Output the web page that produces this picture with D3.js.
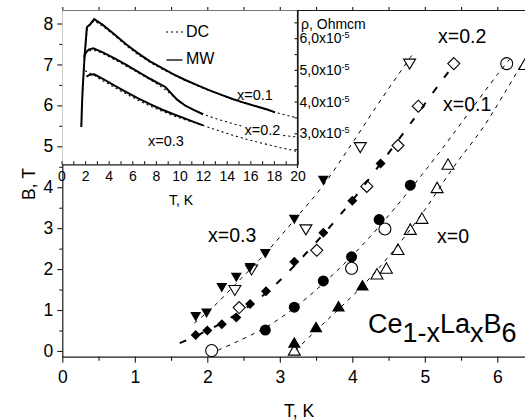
<!DOCTYPE html>
<html><head><meta charset="utf-8">
<script src="https://cdn.jsdelivr.net/npm/d3@7"></script>
<style>
body{margin:0;background:#fff}
text{font-family:"Liberation Sans",Arial,Helvetica,sans-serif;fill:#000}
</style></head>
<body><svg id="c" width="525" height="420"></svg>
<script>
// ---------- main chart data (T in K, B in T) ----------
const xTicks = [0,1,2,3,4,5,6];
const yTicks = [0,1,2,3,4,5,6,7,8];
// x = 0.3
const fTriDownT = [1.84,1.99,2.20,2.40,2.59,2.80,3.20,3.60];
const fTriDownB = [0.84,0.93,1.55,1.80,2.04,2.38,3.22,4.17];
const oTriDownT = [2.38,2.61,3.36,4.11,4.79];
const oTriDownB = [1.49,1.99,2.97,4.98,7.02];
const fit03T = [1.82,2.06,2.40,2.80,3.20,3.60,4.00,4.40,4.82];
const fit03B = [0.68,1.04,1.65,2.38,3.20,4.05,5.08,6.15,7.22];
// x = 0.2
const fDiamT = [1.84,2.00,2.20,2.40,2.59,2.81,3.20,3.60,4.00,4.39];
const fDiamB = [0.39,0.50,0.65,0.82,1.15,1.46,2.18,2.89,3.67,4.58];
const oDiamT = [2.44,3.51,4.20,4.63,4.91,5.40];
const oDiamB = [1.06,2.46,4.02,5.02,5.98,7.02];
const fit02T = [1.62,1.84,2.00,2.20,2.40,2.60,2.80,3.00,3.20,3.60,4.00,4.40,4.80,5.20,5.34];
const fit02B = [0.19,0.36,0.50,0.68,0.90,1.13,1.40,1.72,2.08,2.85,3.68,4.60,5.55,6.52,6.85];
// x = 0.1
const fCircT = [2.80,3.20,3.60,3.99,4.37,4.80];
const fCircB = [0.51,1.07,1.71,2.30,3.21,4.05];
const oCircT = [2.06,3.99,4.45,6.13];
const oCircB = [0.01,2.02,2.98,7.02];
const fit01T = [2.15,2.40,2.80,3.20,3.60,4.00,4.40,4.80,5.20,5.60,6.00,6.18];
const fit01B = [0.02,0.22,0.57,1.05,1.65,2.33,3.10,3.95,4.85,5.80,6.75,7.15];
// x = 0
const fTriUpT = [3.20,3.50,3.81,4.14];
const fTriUpB = [0.21,0.59,1.10,1.61];
const oTriUpT = [3.20,4.34,4.47,4.63,4.80,4.96,5.17,5.32,6.38];
const oTriUpB = [0.02,1.88,2.02,2.48,2.97,3.24,3.99,4.56,7.00];
const fit0T = [3.22,3.50,3.80,4.20,4.60,5.00,5.40,5.80,6.10,6.36];
const fit0B = [0.02,0.50,1.00,1.70,2.52,3.45,4.50,5.45,6.30,7.08];

// ---------- inset data (T in K, rho in 1e-5 Ohm cm) ----------
const insetXTicks = [0,2,4,6,8,10,12,14,16,18,20];
const insetRhoTicks = [3,4,5,6];
const insetRhoLabels = ["3,0x10","4,0x10","5,0x10","6,0x10"];
const mw01T = [1.68,1.72,1.78,1.95,2.15,2.45,2.77,3.5,4.5,5.5,6.5,7.5,8.5,9.5,10.5,11.5,12.5,13.5,14.5,15.5,16.5,17.5,18.1];
const mw01R = [3.20,3.70,4.30,5.40,6.35,6.45,6.60,6.42,6.12,5.80,5.52,5.27,5.06,4.86,4.68,4.52,4.36,4.22,4.08,3.96,3.85,3.74,3.66];
const dc01T = [1.68,1.75,2.0,2.2,2.5,2.77,3.5,4.5,5.5,6.5,7.5,8.5,9.5,10.5,11.5,12.5,13.5,14.5,15.5,16.5,17.5,18.5,19.5,20];
const dc01R = [3.25,4.0,5.6,6.33,6.45,6.55,6.38,6.08,5.76,5.48,5.24,5.03,4.84,4.66,4.50,4.35,4.21,4.07,3.95,3.84,3.73,3.62,3.53,3.48];
const mw02T = [1.92,2.0,2.3,2.7,3.5,4.5,5.5,6.5,7.5,8.3,8.8,9.3,9.8,10.5,11.2,12.0];
const mw02R = [5.40,5.52,5.64,5.68,5.55,5.36,5.16,4.94,4.72,4.56,4.46,4.26,4.06,3.87,3.74,3.60];
const dc02T = [1.92,2.1,2.5,3.0,4.0,5.0,6.0,7.0,8.0,9.0,10.0,11.0,12.0,13.0,14.0,15.0,16.0,17.0,18.0,19.0,20.0];
const dc02R = [5.35,5.55,5.62,5.60,5.42,5.22,5.01,4.80,4.58,4.32,3.99,3.77,3.60,3.47,3.36,3.25,3.15,3.06,2.98,2.92,2.88];
const mw03T = [2.12,2.4,2.77,3.5,4.5,5.5,6.5,7.5,8.5,9.5,10.5,11.2,12.0];
const mw03R = [4.79,4.85,4.86,4.72,4.50,4.30,4.10,3.92,3.75,3.60,3.46,3.36,3.25];
const dc03T = [2.0,2.3,2.7,3.5,4.5,5.5,6.5,7.5,8.5,9.5,10.5,11.5,12.5,13.5,14.5,15.5,16.5,17.5,18.5,19.5,20.0];
const dc03R = [4.97,4.92,4.84,4.66,4.44,4.24,4.04,3.86,3.70,3.55,3.42,3.31,3.18,3.06,2.94,2.83,2.73,2.64,2.55,2.47,2.42];

const zip = (a,b) => a.map((v,i)=>[v,b[i]]);
const svg = d3.select("#c");
const INK = "#1a1a1a";

// ---------- main scales ----------
const x = d3.scaleLinear().domain([0,6.4]).range([62.3,526.3]);
const y = d3.scaleLinear().domain([-0.14,8.33]).range([356.7,10]);

function styleAxis(g, fs){
  g.select(".domain").attr("stroke",INK).attr("stroke-width",1.2);
  g.selectAll(".tick line").attr("stroke",INK).attr("stroke-width",1.1);
  g.selectAll("text").attr("font-size",fs).attr("fill","#000")
   .attr("font-family",'"Liberation Sans",Arial,sans-serif');
}
const halves = (a,b,s)=>d3.range(a,b+1e-9,s);

// x axis bottom
let gx = svg.append("g").attr("transform",`translate(0,${y.range()[0]})`)
  .call(d3.axisBottom(x).tickValues(xTicks).tickSize(6).tickSizeOuter(0).tickPadding(8).tickFormat(d3.format("d")));
styleAxis(gx,17.5);
let gxm = svg.append("g").attr("transform",`translate(0,${y.range()[0]})`)
  .call(d3.axisBottom(x).tickValues(halves(0.5,6.4,1)).tickSize(4).tickSizeOuter(0).tickFormat(""));
styleAxis(gxm,17); gxm.select(".domain").remove();
// top axis
let gt = svg.append("g").attr("transform",`translate(0,${y.range()[1]})`)
  .call(d3.axisTop(x).tickValues(halves(0,6.4,0.5)).tickSize(3).tickSizeOuter(0).tickFormat(""));
styleAxis(gt,17);
// y axis left
let gy = svg.append("g").attr("transform",`translate(${x.range()[0]},0)`)
  .call(d3.axisLeft(y).tickValues(yTicks).tickSize(5).tickSizeOuter(0).tickPadding(4).tickFormat(d3.format("d")));
styleAxis(gy,17.5);
let gym = svg.append("g").attr("transform",`translate(${x.range()[0]},0)`)
  .call(d3.axisLeft(y).tickValues(halves(0.5,8,1)).tickSize(3).tickSizeOuter(0).tickFormat(""));
styleAxis(gym,17); gym.select(".domain").remove();

// axis titles
svg.append("text").attr("x",299).attr("y",417).attr("text-anchor","middle").attr("font-size",17.5).text("T, K");
svg.append("text").attr("transform","translate(35,184) rotate(-90)").attr("text-anchor","middle").attr("font-size",17.5).text("B, T");

// fit curves
const line = d3.line().x(d=>x(d[0])).y(d=>y(d[1])).curve(d3.curveCatmullRom);
function fit(T,B,w,dash){
  svg.append("path").datum(zip(T,B)).attr("d",line).attr("fill","none")
    .attr("stroke","#000").attr("stroke-width",w).attr("stroke-dasharray",dash);
}
fit(fit03T,fit03B,1,"4,5");
fit(fit02T,fit02B,2,"7,12");
fit(fit01T,fit01B,1,"4,5");
fit(fit0T,fit0B,1,"4,5");

// markers
const shapes = {
  triDownF:"M-5.5,-4.5L5.5,-4.5L0,5Z",
  triDownO:"M-6,-4.5L6,-4.5L0,5.5Z",
  triUpF:"M-6.5,5.5L6.5,5.5L0,-5.5Z",
  triUpO:"M-6,5L6,5L0,-5.5Z",
  diamF:"M0,-5L5,0L0,5L-5,0Z",
  diamO:"M0,-6L6,0L0,6L-6,0Z"
};
function markers(T,B,kind,filled){
  const g = svg.append("g");
  const pts = zip(T,B);
  if(kind==="circ"){
    g.selectAll("circle").data(pts).join("circle")
      .attr("cx",d=>x(d[0])).attr("cy",d=>y(d[1])).attr("r",filled?5.5:6)
      .attr("fill",filled?"#000":"none").attr("stroke","#000").attr("stroke-width",filled?0:1.1);
  } else {
    g.selectAll("path").data(pts).join("path")
      .attr("transform",d=>`translate(${x(d[0])},${y(d[1])})`)
      .attr("d",shapes[kind+(filled?"F":"O")])
      .attr("fill",filled?"#000":"none").attr("stroke","#000").attr("stroke-width",filled?0:1.1);
  }
}
markers(fTriDownT,fTriDownB,"triDown",true);
markers(oTriDownT,oTriDownB,"triDown",false);
markers(fDiamT,fDiamB,"diam",true);
markers(oDiamT,oDiamB,"diam",false);
markers(fCircT,fCircB,"circ",true);
markers(oCircT,oCircB,"circ",false);
markers(fTriUpT,fTriUpB,"triUp",true);
markers(oTriUpT,oTriUpB,"triUp",false);

// series labels
const lab = (t,px,py,fs)=>svg.append("text").attr("x",px).attr("y",py).attr("font-size",fs).text(t);
lab("x=0.2",438,43,19.5);
lab("x=0.1",443,111,19.5);
lab("x=0.3",208,241.5,19.5);
lab("x=0",437,242.5,19.5);

// formula
const f = svg.append("text").attr("x",368).attr("y",333).attr("font-size",27);
f.append("tspan").text("Ce");
f.append("tspan").attr("dy",8.5).text("1-x");
f.append("tspan").attr("dy",-8.5).text("La");
f.append("tspan").attr("dy",8.5).text("x");
f.append("tspan").attr("dy",-8.5).text("B");
f.append("tspan").attr("dy",8.5).text("6");

// ---------- inset ----------
const ix = d3.scaleLinear().domain([0,20]).range([61.5,297.5]);
const iy = d3.scaleLinear().domain([2.02,6.89]).range([164.3,10]);
svg.append("rect").attr("x",62.3).attr("y",10.6).attr("width",297.5-62.3).attr("height",164.3-10.6).attr("fill","#fff");

let ib = svg.append("g").attr("transform",`translate(0,${iy.range()[0]})`)
  .call(d3.axisBottom(ix).tickValues(insetXTicks).tickSize(-3).tickSizeOuter(0).tickPadding(7).tickFormat(d3.format("d")));
styleAxis(ib,14);
let ibm = svg.append("g").attr("transform",`translate(0,${iy.range()[0]})`)
  .call(d3.axisBottom(ix).tickValues(halves(1,19,2)).tickSize(-3).tickSizeOuter(0).tickFormat(""));
styleAxis(ibm,14); ibm.select(".domain").remove();

let ir = svg.append("g").attr("transform",`translate(${ix.range()[1]},0)`)
  .call(d3.axisRight(iy).tickValues(insetRhoTicks).tickSize(-3).tickSizeOuter(0).tickPadding(2).tickFormat(""));
styleAxis(ir,14);
ir.selectAll(".tick text").each(function(d,i){
  const t = d3.select(this);
  t.text(null);
  t.append("tspan").text(insetRhoLabels[i]);
  t.append("tspan").attr("dy","-0.55em").attr("font-size",9).text("-5");
});
let irm = svg.append("g").attr("transform",`translate(${ix.range()[1]},0)`)
  .call(d3.axisRight(iy).tickValues([2.5,3.5,4.5,5.5,6.5]).tickSize(-3).tickSizeOuter(0).tickFormat(""));
styleAxis(irm,14); irm.select(".domain").remove();
svg.append("line").attr("x1",ix.range()[1]).attr("x2",ix.range()[1]).attr("y1",10).attr("y2",168)
  .attr("stroke",INK).attr("stroke-width",1.2);

svg.append("text").attr("x",301).attr("y",28.5).attr("font-size",14).text("ρ, Ohmcm");
svg.append("text").attr("x",181).attr("y",205).attr("text-anchor","middle").attr("font-size",14).text("T, K");

const iline = d3.line().x(d=>ix(d[0])).y(d=>iy(d[1]));
function icurve(T,R,solid){
  svg.append("path").datum(zip(T,R)).attr("d",iline).attr("fill","none")
    .attr("stroke","#000").attr("stroke-width",solid?2:1.1)
    .attr("stroke-dasharray",solid?null:"2,3");
}
icurve(dc01T,dc01R,false);
icurve(dc02T,dc02R,false);
icurve(dc03T,dc03R,false);
icurve(mw01T,mw01R,true);
icurve(mw02T,mw02R,true);
icurve(mw03T,mw03R,true);

// inset labels
const ilab = (t,px,py)=>svg.append("text").attr("x",px).attr("y",py).attr("font-size",14.5).text(t);
ilab("x=0.1",237,100);
svg.append("rect").attr("x",243).attr("y",123).attr("width",40).attr("height",14).attr("fill","#fff");
ilab("x=0.2",244.5,135);
ilab("x=0.3",148,146);

// legend
svg.append("line").attr("x1",166).attr("x2",183).attr("y1",32).attr("y2",32)
  .attr("stroke","#000").attr("stroke-width",1.1).attr("stroke-dasharray","2,3");
svg.append("text").attr("x",186).attr("y",36.5).attr("font-size",16).text("DC");
svg.append("line").attr("x1",166.5).attr("x2",182.5).attr("y1",60).attr("y2",60)
  .attr("stroke","#000").attr("stroke-width",1.3);
svg.append("text").attr("x",186).attr("y",63.5).attr("font-size",16).text("MW");
</script>
</body></html>
